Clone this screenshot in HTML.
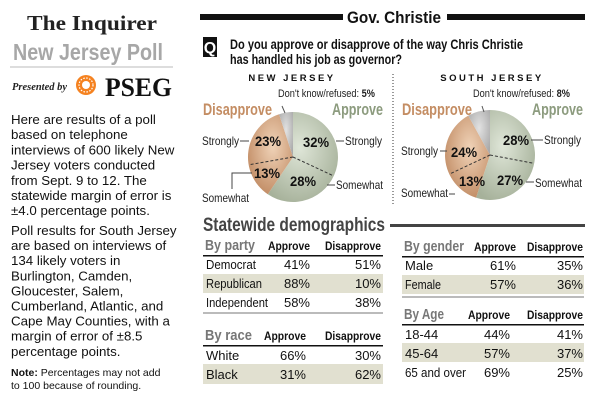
<!DOCTYPE html>
<html><head><meta charset="utf-8"><style>
html,body{margin:0;padding:0;background:#fff}
svg{display:block}
.n{font-family:"Liberation Sans Narrow","Liberation Sans",sans-serif}
.s{font-family:"Liberation Sans",sans-serif}
</style></head><body>
<svg width="600" height="400" viewBox="0 0 600 400" xmlns="http://www.w3.org/2000/svg">
<defs>
<radialGradient id="ga" cx="0.45" cy="0.4" r="0.65"><stop offset="0" stop-color="#dfe6d8"/><stop offset="1" stop-color="#a6b19a"/></radialGradient>
<radialGradient id="gd" cx="0.55" cy="0.4" r="0.65"><stop offset="0" stop-color="#f0d3b8"/><stop offset="1" stop-color="#c08a62"/></radialGradient>
<radialGradient id="gg" cx="0.5" cy="0.4" r="0.65"><stop offset="0" stop-color="#e2e2e2"/><stop offset="1" stop-color="#aaa"/></radialGradient>
</defs>
<!-- left column -->
<text x="92" y="30" text-anchor="middle" font-family="Liberation Serif,serif" font-weight="bold" font-size="21" fill="#222" textLength="130" lengthAdjust="spacingAndGlyphs">The Inquirer</text>
<text x="13" y="60" class="n" font-weight="bold" font-size="23" fill="#a7a7a7" textLength="150" lengthAdjust="spacingAndGlyphs">New Jersey Poll</text>
<line x1="10" y1="67" x2="173" y2="67" stroke="#bbb" stroke-width="1"/>
<text x="12" y="90" font-family="Liberation Serif,serif" font-style="italic" font-weight="bold" font-size="11" fill="#222" textLength="55" lengthAdjust="spacingAndGlyphs">Presented by</text>
<circle cx="86" cy="85" r="10" fill="#f58220"/><circle cx="86" cy="85" r="4" fill="#fff"/>
<circle cx="86" cy="85" r="7" fill="none" stroke="#fff" stroke-width="1.2" stroke-dasharray="1.5 1.5"/>
<text x="105" y="96" font-family="Liberation Serif,serif" font-weight="bold" font-size="26" fill="#111" textLength="67" lengthAdjust="spacingAndGlyphs">PSEG</text>
<g class="s" font-size="13.3" fill="#111">
<text x="11" y="124">Here are results of a poll</text>
<text x="11" y="139.2">based on telephone</text>
<text x="11" y="154.4">interviews of 600 likely New</text>
<text x="11" y="169.6">Jersey voters conducted</text>
<text x="11" y="184.8">from Sept. 9 to 12. The</text>
<text x="11" y="200">statewide margin of error is</text>
<text x="11" y="215.2">±4.0 percentage points.</text>
<text x="11" y="235">Poll results for South Jersey</text>
<text x="11" y="250.1">are based on interviews of</text>
<text x="11" y="265.2">134 likely voters in</text>
<text x="11" y="280.3">Burlington, Camden,</text>
<text x="11" y="295.4">Gloucester, Salem,</text>
<text x="11" y="310.5">Cumberland, Atlantic, and</text>
<text x="11" y="325.6">Cape May Counties, with a</text>
<text x="11" y="340.7">margin of error of ±8.5</text>
<text x="11" y="355.8">percentage points.</text>
</g>
<text x="11" y="376" class="s" font-size="10.5" fill="#111"><tspan font-weight="bold">Note:</tspan> Percentages may not add</text>
<text x="11" y="389" class="s" font-size="10.5" fill="#111">to 100 because of rounding.</text>
<!-- header -->
<rect x="200" y="14" width="143" height="6" fill="#111"/>
<rect x="447" y="14" width="138" height="6" fill="#111"/>
<text x="347" y="23" class="n" font-weight="bold" font-size="17" fill="#111" textLength="94" lengthAdjust="spacingAndGlyphs">Gov. Christie</text>
<rect x="203" y="37" width="14" height="20" fill="#111"/>
<text x="210" y="53" text-anchor="middle" class="n" font-weight="bold" font-size="16" fill="#fff">Q</text>
<text x="230" y="49" class="n" font-weight="bold" font-size="14" fill="#111" textLength="293" lengthAdjust="spacingAndGlyphs">Do you approve or disapprove of the way Chris Christie</text>
<text x="230" y="64" class="n" font-weight="bold" font-size="14" fill="#111" textLength="172" lengthAdjust="spacingAndGlyphs">has handled his job as governor?</text>
<line x1="393" y1="74" x2="393" y2="206" stroke="#333" stroke-dasharray="1 2"/>
<!-- NJ pie -->
<text x="292" y="81" text-anchor="middle" class="s" font-weight="bold" font-size="9.5" letter-spacing="2.5" fill="#111">NEW JERSEY</text>
<text x="278" y="97" class="n" font-size="11" fill="#222" textLength="97" lengthAdjust="spacingAndGlyphs">Don't know/refused: <tspan font-weight="bold">5%</tspan></text>
<text x="203" y="115" class="n" font-weight="bold" font-size="17" fill="#c48d63" textLength="69" lengthAdjust="spacingAndGlyphs">Disapprove</text>
<text x="332" y="115" class="n" font-weight="bold" font-size="17" fill="#8c9b7e" textLength="51" lengthAdjust="spacingAndGlyphs">Approve</text>
<path d="M293 157 L293 112 A45 45 0 1 1 267.8 194.3 Z" fill="url(#ga)"/>
<path d="M293 157 L267.8 194.3 A45 45 0 0 1 279.1 114.2 Z" fill="url(#gd)"/>
<path d="M293 157 L279.1 114.2 A45 45 0 0 1 293 112 Z" fill="url(#gg)"/>
<path d="M293 157 L333.8 176 M293 157 L248.7 164.8" stroke="#333" stroke-dasharray="3 2"/>
<line x1="282" y1="106" x2="285" y2="113" stroke="#555"/>
<g class="n" font-weight="bold" font-size="14" fill="#111">
<text x="303" y="147" textLength="26" lengthAdjust="spacingAndGlyphs">32%</text><text x="255" y="146" textLength="26" lengthAdjust="spacingAndGlyphs">23%</text><text x="254" y="178" textLength="26" lengthAdjust="spacingAndGlyphs">13%</text><text x="290" y="186" textLength="26" lengthAdjust="spacingAndGlyphs">28%</text></g>
<g class="n" font-size="12" fill="#222">
<text x="202" y="145" textLength="37" lengthAdjust="spacingAndGlyphs">Strongly</text><text x="345" y="145" textLength="37" lengthAdjust="spacingAndGlyphs">Strongly</text>
<text x="336" y="189" textLength="47" lengthAdjust="spacingAndGlyphs">Somewhat</text><text x="202" y="202" textLength="47" lengthAdjust="spacingAndGlyphs">Somewhat</text></g>
<path d="M240 141h9 M336 141h8 M327 185h8 M252 173h-20v16" stroke="#444" fill="none"/>
<!-- SJ pie -->
<text x="492" y="81" text-anchor="middle" class="s" font-weight="bold" font-size="9.5" letter-spacing="2.5" fill="#111">SOUTH JERSEY</text>
<text x="473" y="97" class="n" font-size="11" fill="#222" textLength="97" lengthAdjust="spacingAndGlyphs">Don't know/refused: <tspan font-weight="bold">8%</tspan></text>
<text x="402" y="115" class="n" font-weight="bold" font-size="17" fill="#c48d63" textLength="70" lengthAdjust="spacingAndGlyphs">Disapprove</text>
<text x="532" y="115" class="n" font-weight="bold" font-size="17" fill="#8c9b7e" textLength="51" lengthAdjust="spacingAndGlyphs">Approve</text>
<path d="M490 155 L490 110 A45 45 0 1 1 476.1 197.8 Z" fill="url(#ga)"/>
<path d="M490 155 L476.1 197.8 A45 45 0 0 1 468.3 115.6 Z" fill="url(#gd)"/>
<path d="M490 155 L468.3 115.6 A45 45 0 0 1 490 110 Z" fill="url(#gg)"/>
<path d="M490 155 L534.2 163.4 M490 155 L449.3 174.2" stroke="#333" stroke-dasharray="3 2"/>
<line x1="482" y1="106" x2="484" y2="112" stroke="#555"/>
<g class="n" font-weight="bold" font-size="14" fill="#111">
<text x="503" y="145" textLength="26" lengthAdjust="spacingAndGlyphs">28%</text><text x="451" y="157" textLength="26" lengthAdjust="spacingAndGlyphs">24%</text><text x="459" y="186" textLength="26" lengthAdjust="spacingAndGlyphs">13%</text><text x="497" y="185" textLength="26" lengthAdjust="spacingAndGlyphs">27%</text></g>
<g class="n" font-size="12" fill="#222">
<text x="401" y="155" textLength="37" lengthAdjust="spacingAndGlyphs">Strongly</text><text x="544" y="144" textLength="37" lengthAdjust="spacingAndGlyphs">Strongly</text>
<text x="535" y="187" textLength="47" lengthAdjust="spacingAndGlyphs">Somewhat</text><text x="401" y="197" textLength="47" lengthAdjust="spacingAndGlyphs">Somewhat</text></g>
<path d="M440 151h7 M531 140h12 M526 182h8 M449 194h6" stroke="#444" fill="none"/>
<!-- demographics -->
<text x="203" y="231" class="n" font-weight="bold" font-size="19" fill="#444" textLength="182" lengthAdjust="spacingAndGlyphs">Statewide demographics</text>
<rect x="390" y="224" width="195" height="3" fill="#444"/>
<g class="n" font-size="13" fill="#111">
<text x="205" y="250" font-weight="bold" font-size="15" fill="#777" textLength="50" lengthAdjust="spacingAndGlyphs">By party</text>
<text x="310" y="250" text-anchor="end" font-weight="bold" font-size="12" textLength="42" lengthAdjust="spacingAndGlyphs">Approve</text>
<text x="381" y="250" text-anchor="end" font-weight="bold" font-size="12" textLength="56" lengthAdjust="spacingAndGlyphs">Disapprove</text>
<rect x="203" y="255" width="180" height="1.5" fill="#111"/>
<rect x="203" y="274" width="180" height="19" fill="#e1e0d0"/>
<text x="206" y="269" textLength="50" lengthAdjust="spacingAndGlyphs">Democrat</text><text x="310" y="269" text-anchor="end">41%</text><text x="381" y="269" text-anchor="end">51%</text>
<text x="206" y="288" textLength="56" lengthAdjust="spacingAndGlyphs">Republican</text><text x="310" y="288" text-anchor="end">88%</text><text x="381" y="288" text-anchor="end">10%</text>
<text x="206" y="307" textLength="62" lengthAdjust="spacingAndGlyphs">Independent</text><text x="310" y="307" text-anchor="end">58%</text><text x="381" y="307" text-anchor="end">38%</text>
<rect x="203" y="312" width="180" height="2" fill="#bbb"/>
<text x="205" y="340" font-weight="bold" font-size="15" fill="#777" textLength="47" lengthAdjust="spacingAndGlyphs">By race</text>
<text x="306" y="340" text-anchor="end" font-weight="bold" font-size="12" textLength="42" lengthAdjust="spacingAndGlyphs">Approve</text>
<text x="381" y="340" text-anchor="end" font-weight="bold" font-size="12" textLength="56" lengthAdjust="spacingAndGlyphs">Disapprove</text>
<rect x="203" y="345" width="180" height="1.5" fill="#111"/>
<rect x="203" y="364" width="180" height="20" fill="#e1e0d0"/>
<text x="206" y="360">White</text><text x="306" y="360" text-anchor="end">66%</text><text x="381" y="360" text-anchor="end">30%</text>
<text x="206" y="379">Black</text><text x="306" y="379" text-anchor="end">31%</text><text x="381" y="379" text-anchor="end">62%</text>
<text x="404" y="251" font-weight="bold" font-size="15" fill="#777" textLength="60" lengthAdjust="spacingAndGlyphs">By gender</text>
<text x="516" y="251" text-anchor="end" font-weight="bold" font-size="12" textLength="42" lengthAdjust="spacingAndGlyphs">Approve</text>
<text x="583" y="251" text-anchor="end" font-weight="bold" font-size="12" textLength="56" lengthAdjust="spacingAndGlyphs">Disapprove</text>
<rect x="402" y="256" width="182" height="1.5" fill="#111"/>
<rect x="402" y="275" width="182" height="19" fill="#e1e0d0"/>
<text x="405" y="270">Male</text><text x="516" y="270" text-anchor="end">61%</text><text x="583" y="270" text-anchor="end">35%</text>
<text x="405" y="289" textLength="36" lengthAdjust="spacingAndGlyphs">Female</text><text x="516" y="289" text-anchor="end">57%</text><text x="583" y="289" text-anchor="end">36%</text>
<rect x="402" y="296" width="182" height="2" fill="#bbb"/>
<text x="404" y="319" font-weight="bold" font-size="15" fill="#777" textLength="40" lengthAdjust="spacingAndGlyphs">By Age</text>
<text x="510" y="319" text-anchor="end" font-weight="bold" font-size="12" textLength="42" lengthAdjust="spacingAndGlyphs">Approve</text>
<text x="583" y="319" text-anchor="end" font-weight="bold" font-size="12" textLength="56" lengthAdjust="spacingAndGlyphs">Disapprove</text>
<rect x="402" y="324" width="182" height="1.5" fill="#111"/>
<rect x="402" y="343" width="182" height="19" fill="#e1e0d0"/>
<text x="405" y="339">18-44</text><text x="510" y="339" text-anchor="end">44%</text><text x="583" y="339" text-anchor="end">41%</text>
<text x="405" y="358">45-64</text><text x="510" y="358" text-anchor="end">57%</text><text x="583" y="358" text-anchor="end">37%</text>
<text x="405" y="377" textLength="61" lengthAdjust="spacingAndGlyphs">65 and over</text><text x="510" y="377" text-anchor="end">69%</text><text x="583" y="377" text-anchor="end">25%</text>
</g>
</svg>
</body></html>
